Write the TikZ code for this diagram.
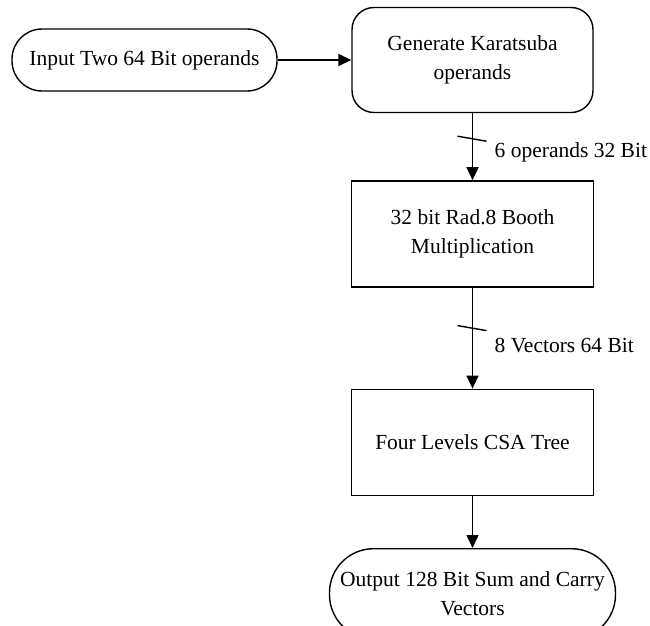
\documentclass[tikz,border=0pt]{standalone}
\usepackage{fontspec}
\setmainfont{Liberation Serif}
\usepackage{tikz}
\usetikzlibrary{arrows.meta,calc,positioning}

\begin{document}
\begin{tikzpicture}[
      x=1pt, y=-1pt,
      >={Triangle[length=13pt,width=12pt]},
      font=\fontsize{21.5}{29}\selectfont,
      flow/.style={line width=1.5pt, ->},
      busTick/.style={line width=1.4pt},
      block/.style={draw=black, line width=1.4pt, fill=white, align=center, inner sep=2pt},
      blockRound/.style={block, rounded corners=22pt},
      terminal/.style={block, rounded corners=30pt},
      busLabel/.style={anchor=west, inner sep=0pt}
    ]

    \clip (0,0) rectangle (650,625);

    % -------- top row --------
    \node[terminal, minimum width=265pt, minimum height=62pt] (inp) at (144.5,60)
      {Input Two 64 Bit operands};
    \node[blockRound, minimum width=241pt, minimum height=105pt] (kara) at (472.5,60)
      {Generate Karatsuba\\operands};

    % -------- stack --------
    \node[block, minimum width=242pt, minimum height=106pt, below=67pt of kara] (booth)
      {32 bit Rad.8 Booth\\Multiplication};
    \node[block, minimum width=242pt, minimum height=106pt, below=101pt of booth] (csa)
      {Four Levels CSA Tree};
    \node[block, rounded corners=44pt, minimum width=286pt, minimum height=90pt, below=52pt of csa] (outp)
      {Output 128 Bit Sum and Carry\\Vectors};

    % -------- connectors --------
    \draw[flow] (inp) -- (kara);
    \draw[flow] (kara) -- (booth);
    \draw[flow] (booth) -- (csa);
    \draw[flow] (csa) -- (outp);

    % bus widths
    \draw[busTick] ($(kara.south)+(-15,23)$) -- ++(29,5);
    \draw[busTick] ($(booth.south)+(-15,38)$) -- ++(29,5);
    \node[busLabel] (lab1) at ($(kara.south)+(22,39)$) {6 operands 32 Bit};
    \node[busLabel] (lab2) at ($(booth.south)+(22,58)$) {8 Vectors 64 Bit};

\end{tikzpicture}
\end{document}
